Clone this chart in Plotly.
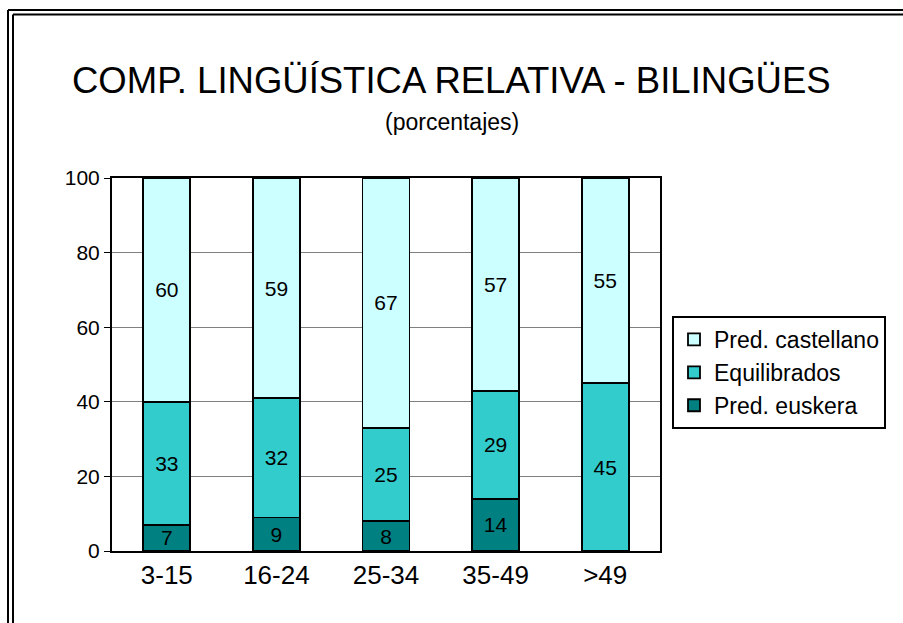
import plotly.graph_objects as go

categories = ["3-15", "16-24", "25-34", "35-49", ">49"]
pred_euskera = [7, 9, 8, 14, 0]
equilibrados = [33, 32, 25, 29, 45]
pred_castellano = [60, 59, 67, 57, 55]
y_ticks = [0, 20, 40, 60, 80, 100]

W, H = 903, 623
L, R, T, B = 112, 243, 178, 72
pw, ph = W - L - R, H - T - B

def px(x):
    return (x - L) / pw

def py(y):
    return (H - B - y) / ph

FONT = "Liberation Sans, Arial, sans-serif"

fig = go.Figure()
series = [
    ("Pred. euskera", pred_euskera, "#008080"),
    ("Equilibrados", equilibrados, "#33CCCC"),
    ("Pred. castellano", pred_castellano, "#CCFFFF"),
]
for name, vals, col in series:
    fig.add_trace(go.Bar(
        x=categories, y=vals, name=name,
        marker=dict(color=col, line=dict(color="black", width=1.8)),
        text=[str(v) if v else "" for v in vals],
        textposition="inside", insidetextanchor="middle", textangle=0,
        textfont=dict(size=21, color="black", family=FONT),
        width=0.43,
    ))

shapes = []
for xo, yo in [(8, 10), (13, 14.5)]:
    shapes.append(dict(type="line", xref="paper", yref="paper",
                       x0=px(xo), x1=px(xo), y0=py(yo), y1=py(H + 5),
                       line=dict(color="black", width=2)))
    shapes.append(dict(type="line", xref="paper", yref="paper",
                       x0=px(xo), x1=px(W + 5), y0=py(yo), y1=py(yo),
                       line=dict(color="black", width=2)))

fig.update_layout(
    width=W, height=H,
    margin=dict(l=L, r=R, t=T, b=B),
    paper_bgcolor="white", plot_bgcolor="white",
    barmode="stack",
    font=dict(family=FONT, color="black"),
    uniformtext=dict(minsize=21, mode="show"),
    showlegend=True,
    legend=dict(x=px(672), y=py(316), xanchor="left", yanchor="top",
                traceorder="reversed", bordercolor="black", borderwidth=2,
                font=dict(size=23, family=FONT), bgcolor="white",
                itemwidth=30, tracegroupgap=0),
    shapes=shapes,
    annotations=[
        dict(text="COMP. LINGÜÍSTICA RELATIVA - BILINGÜES", xref="paper", yref="paper",
             x=px(W / 2), y=py(80), showarrow=False, xanchor="center", yanchor="middle",
             font=dict(size=36.5, family=FONT)),
        dict(text="(porcentajes)", xref="paper", yref="paper",
             x=px(W / 2), y=py(122), showarrow=False, xanchor="center", yanchor="middle",
             font=dict(size=23, family=FONT)),
    ],
)
fig.update_xaxes(showline=True, linecolor="black", linewidth=2, mirror=True,
                 ticks="", tickfont=dict(size=26, family=FONT))
fig.update_yaxes(range=[0, 100], tickvals=y_ticks, showline=True, linecolor="black",
                 linewidth=2, mirror=True, ticks="outside", ticklen=6, tickcolor="black",
                 showgrid=True, gridcolor="#808080", gridwidth=1, zeroline=False,
                 tickfont=dict(size=21, family=FONT))

fig.write_html("out.html", config={"displayModeBar": False},
               post_script="document.body.style.margin='0';document.body.style.overflow='hidden';")
